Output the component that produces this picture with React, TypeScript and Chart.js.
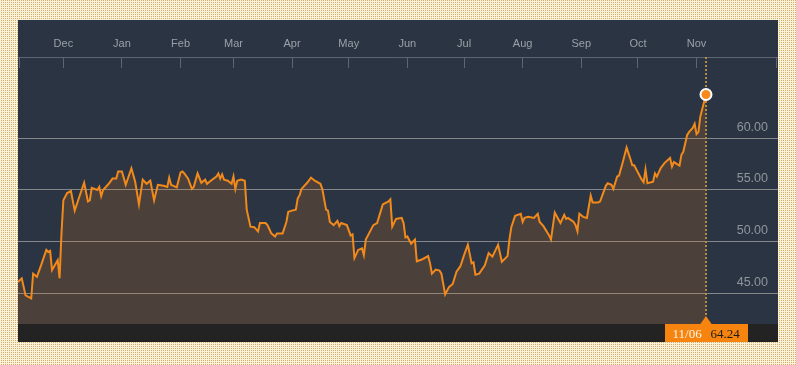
import React, { useEffect, useRef } from "react";
import { Chart, registerables } from "chart.js";

Chart.register(...registerables);

// ---- data ----
const START_DATE = "2016-11-07";
const MONTH_LABELS = ["Dec", "Jan", "Feb", "Mar", "Apr", "May", "Jun", "Jul", "Aug", "Sep", "Oct", "Nov"];
const MONTH_START_DATES = [
  "2016-12-01", "2017-01-01", "2017-02-01", "2017-03-01", "2017-04-01", "2017-05-01",
  "2017-06-01", "2017-07-01", "2017-08-01", "2017-09-01", "2017-10-01", "2017-11-01",
];
const Y_TICKS = [45, 50, 55, 60];
const LAST_DATE_LABEL = "11/06";

// calendar day offsets from START_DATE
const DAY_OFFSETS = [
  0, 2, 4, 7, 8, 10, 12, 15, 16, 17,
  18, 21, 22, 23, 24, 26, 28, 30, 32, 35,
  37, 38, 39, 42, 43, 44, 45, 48, 50, 52,
  53, 55, 57, 60, 62, 64, 66, 68, 70, 72,
  74, 77, 79, 80, 81, 84, 86, 87, 88, 90,
  92, 93, 95, 97, 99, 100, 102, 105, 106, 107,
  108, 109, 111, 113, 114, 115, 116, 118, 120, 121,
  123, 125, 127, 128, 131, 132, 134, 136, 137, 140,
  142, 143, 145, 147, 148, 149, 150, 153, 155, 157,
  160, 161, 163, 164, 165, 167, 169, 170, 171, 174,
  176, 177, 178, 180, 182, 183, 184, 186, 188, 190,
  191, 193, 196, 197, 198, 200, 203, 204, 205, 206,
  208, 210, 211, 214, 217, 218, 219, 221, 223, 224,
  226, 228, 230, 232, 234, 236, 238, 240, 241, 242,
  244, 247, 249, 251, 254, 256, 259, 260, 261, 263,
  266, 267, 268, 270, 273, 275, 276, 278, 281, 282,
  284, 287, 289, 290, 291, 294, 295, 296, 297, 299,
  301, 303, 304, 307, 308, 311, 312, 314, 315, 317,
  318, 320, 322, 324, 325, 326, 328, 330, 331, 332,
  333, 336, 337, 338, 340, 342, 345, 346, 347, 350,
  351, 352, 354, 355, 357, 358, 359, 360, 361, 364,
];

const PRICES = [
  46.1, 46.45, 44.8, 44.5, 46.9, 46.6, 47.6, 49.2, 49.0, 49.1,
  47.25, 48.2, 46.45, 50.8, 54.0, 54.7, 54.9, 53.0, 54.1, 55.7,
  53.9, 54.0, 55.2, 55.0, 55.3, 54.4, 55.0, 55.6, 56.1, 56.1,
  56.8, 56.8, 55.5, 57.1, 55.8, 53.6, 56.0, 55.6, 55.9, 54.0,
  55.5, 55.4, 55.3, 56.2, 55.5, 55.25, 56.7, 56.8, 56.6, 56.1,
  55.1, 55.3, 56.6, 55.7, 56.0, 55.6, 55.9, 56.3, 56.6, 56.1,
  56.5, 56.0, 55.9, 55.6, 56.3, 55.1, 55.9, 56.0, 55.9, 53.1,
  51.45, 51.4, 51.0, 51.8, 51.8, 51.6, 50.8, 50.5, 50.8, 50.8,
  51.9, 52.9, 53.0, 53.1, 54.2, 54.5, 55.1, 55.7, 56.2, 55.9,
  55.6, 55.1, 53.1, 53.0, 51.9, 51.6, 52.0, 51.5, 51.8, 51.6,
  50.6, 50.7, 48.4, 49.2, 49.35, 48.7, 50.2, 50.9, 51.6, 51.8,
  52.4, 53.6, 53.9, 54.1, 51.45, 52.2, 52.3, 51.8, 50.4, 50.5,
  49.8, 50.2, 48.1, 48.3, 48.6, 47.9, 46.9, 47.3, 47.2, 46.9,
  44.9, 45.6, 45.9, 47.1, 47.6, 48.7, 49.7, 47.9, 48.0, 46.8,
  46.9, 47.7, 48.9, 48.55, 49.7, 48.05, 48.6, 50.2, 51.4, 52.5,
  52.7, 51.9, 52.3, 52.4, 52.3, 52.7, 51.9, 51.5, 50.6, 50.2,
  52.8, 51.8, 52.6, 52.2, 52.3, 51.9, 51.6, 51.0, 52.7, 52.4,
  52.3, 54.45, 53.8, 53.8, 53.9, 55.4, 55.65, 55.5, 55.1, 56.3,
  56.4, 57.7, 59.1, 58.0, 57.4, 57.4, 56.7, 56.0, 55.75, 57.0,
  55.65, 55.8, 56.6, 56.3, 57.1, 57.6, 58.1, 57.25, 57.7, 57.35,
  58.4, 58.7, 60.3, 60.6, 61.0, 61.4, 60.4, 60.6, 62.1, 64.24,
];

// ---- helpers ----
const dayOf = (s: string) => {
  const [a, b, c] = s.split("-").map(Number);
  const [sa, sb, sc] = START_DATE.split("-").map(Number);
  return Math.round((Date.UTC(a, b - 1, c) - Date.UTC(sa, sb - 1, sc)) / 86400000);
};

const X_MIN = 0;
const X_MAX = 402.1;
const Y_MIN = 42.03;
const Y_MAX = 67.87;

const FONT_SANS = '"Liberation Sans", Arial, Helvetica, sans-serif';
const FONT_SERIF = '"Liberation Serif", "Times New Roman", serif';

export default function App() {
  const canvasRef = useRef<HTMLCanvasElement | null>(null);

  useEffect(() => {
    const canvas = canvasRef.current;
    if (!canvas) return;

    const monthTicks = MONTH_START_DATES.map(dayOf);
    const labelMap = new Map<number, string>();
    monthTicks.forEach((d, i) => labelMap.set(d, MONTH_LABELS[i]));
    const xTickValues = [1, ...monthTicks, 401.5];

    const points = DAY_OFFSETS.map((d, i) => ({ x: d, y: PRICES[i] }));
    const lastIdx = points.length - 1;

    const overlay = {
      id: "overlay",
      beforeDatasetsDraw(chart: any) {
        const { ctx, chartArea, scales } = chart;
        const px = Math.round(scales.x.getPixelForValue(points[lastIdx].x));
        ctx.save();
        ctx.strokeStyle = "#b38d45";
        ctx.lineWidth = 2;
        ctx.setLineDash([2, 2]);
        ctx.beginPath();
        ctx.moveTo(px, chartArea.top);
        ctx.lineTo(px, chartArea.bottom);
        ctx.stroke();
        ctx.restore();
      },
      afterDraw(chart: any) {
        const { ctx, chartArea, scales, width, height } = chart;
        ctx.save();
        // bottom band
        ctx.fillStyle = "#232323";
        ctx.fillRect(0, chartArea.bottom, width, height - chartArea.bottom);
        // label box
        const px = scales.x.getPixelForValue(points[lastIdx].x);
        const boxL = Math.round(px - 41);
        const boxR = Math.round(px + 42);
        const top = chartArea.bottom;
        ctx.fillStyle = "#f7840f";
        ctx.fillRect(boxL, top, boxR - boxL, height - top);
        ctx.beginPath();
        ctx.moveTo(px - 6, top + 0.5);
        ctx.lineTo(px, top - 8);
        ctx.lineTo(px + 6, top + 0.5);
        ctx.closePath();
        ctx.fill();
        ctx.font = `13px ${FONT_SERIF}`;
        ctx.textBaseline = "alphabetic";
        ctx.textAlign = "left";
        ctx.fillStyle = "#fff6ea";
        ctx.fillText(LAST_DATE_LABEL, boxL + 7.5, top + 13.5);
        ctx.fillStyle = "#1c1c1c";
        ctx.fillText(PRICES[lastIdx].toFixed(2), boxL + 45.5, top + 13.5);
        ctx.restore();
      },
    };

    const chart = new Chart(canvas, {
      type: "line",
      data: {
        datasets: [
          {
            data: points,
            borderColor: "#f2891b",
            borderWidth: 2,
            backgroundColor: "rgba(240,128,10,0.16)",
            fill: "start",
            tension: 0,
            pointRadius: (c: any) => (c.dataIndex === lastIdx ? 5.5 : 0),
            pointHoverRadius: 0,
            pointBackgroundColor: "#f68a1e",
            pointBorderColor: "#ffffff",
            pointBorderWidth: 2,
            clip: false as any,
          },
        ],
      },
      options: {
        responsive: false,
        animation: false,
        devicePixelRatio: 1,
        events: [],
        layout: { autoPadding: false, padding: { left: 0, right: 0, top: 0, bottom: 18 } },
        plugins: {
          legend: { display: false },
          tooltip: { enabled: false },
        },
        scales: {
          x: {
            type: "linear",
            position: "top",
            min: X_MIN,
            max: X_MAX,
            afterBuildTicks: (s: any) => {
              s.ticks = xTickValues.map((v) => ({ value: v }));
            },
            afterFit: (s: any) => {
              s.height = 37;
              s.paddingLeft = 0;
              s.paddingRight = 0;
            },
            grid: {
              drawOnChartArea: false,
              drawTicks: true,
              tickLength: -11,
              color: "#5e6571",
              lineWidth: 1,
            },
            border: { display: true, color: "#5e6571", width: 1 },
            ticks: {
              autoSkip: false,
              maxRotation: 0,
              minRotation: 0,
              padding: 17,
              color: "#9aa0a8",
              font: { family: FONT_SANS, size: 11 },
              callback: (v: any) => labelMap.get(Number(v)) ?? "",
            },
          },
          y: {
            type: "linear",
            position: "right",
            min: Y_MIN,
            max: Y_MAX,
            afterBuildTicks: (s: any) => {
              s.ticks = Y_TICKS.map((v) => ({ value: v }));
            },
            afterFit: (s: any) => {
              s.width = 0;
              s.paddingTop = 0;
              s.paddingBottom = 0;
            },
            grid: { color: "#85868a", lineWidth: 1, drawTicks: false },
            border: { display: false },
            ticks: {
              mirror: true,
              padding: -10,
              labelOffset: -11,
              color: "#8e949c",
              font: { family: FONT_SANS, size: 12.5 },
              callback: (v: any) => Number(v).toFixed(2),
            },
          },
        },
      },
      plugins: [overlay],
    } as any);

    return () => chart.destroy();
  }, []);

  return (
    <div
      style={{
        position: "fixed",
        left: 0,
        top: 0,
        width: 796,
        height: 365,
        backgroundColor: "#fbf2dc",
        backgroundImage: "conic-gradient(#d3ad68 0 25%, transparent 0 100%)",
        backgroundSize: "2px 2px",
      }}
    >
      <canvas
        ref={canvasRef}
        width={760}
        height={322}
        style={{ position: "absolute", left: 18, top: 20, width: 760, height: 322, background: "#2b3443" }}
      />
    </div>
  );
}
